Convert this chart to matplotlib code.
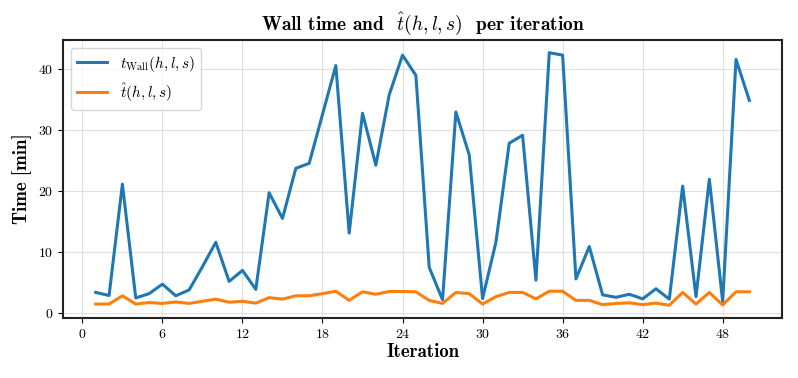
import matplotlib
matplotlib.use("Agg")
import matplotlib.pyplot as plt

iterations = list(range(1, 51))
t_wall = [3.4, 2.9, 21.1, 2.5, 3.2, 4.75, 2.85, 3.8, 7.6, 11.6,
          5.2, 7.0, 3.9, 19.7, 15.5, 23.7, 24.5, 32.5, 40.5, 13.1,
          32.7, 24.2, 35.7, 42.2, 38.9, 7.5, 2.2, 32.9, 25.9, 2.4,
          11.6, 27.8, 29.1, 5.4, 42.6, 42.2, 5.6, 10.9, 3.0, 2.6,
          3.1, 2.35, 4.0, 2.3, 20.8, 2.7, 21.9, 1.9, 41.5, 34.8]
t_hat = [1.5, 1.5, 2.85, 1.5, 1.75, 1.6, 1.85, 1.6, 1.95, 2.3,
         1.8, 1.95, 1.65, 2.55, 2.3, 2.85, 2.85, 3.2, 3.6, 2.1,
         3.5, 3.1, 3.55, 3.55, 3.5, 2.1, 1.6, 3.4, 3.2, 1.5,
         2.7, 3.4, 3.4, 2.35, 3.6, 3.6, 2.1, 2.1, 1.4, 1.6,
         1.7, 1.4, 1.65, 1.3, 3.4, 1.5, 3.4, 1.35, 3.5, 3.5]
xticks = [0, 6, 12, 18, 24, 30, 36, 42, 48]
yticks = [0, 10, 20, 30, 40]

plt.rcParams['font.family'] = 'serif'
plt.rcParams['font.serif'] = ['cmr10']
plt.rcParams['mathtext.fontset'] = 'cm'
plt.rcParams['axes.formatter.use_mathtext'] = True

fig, ax = plt.subplots(figsize=(7.98, 3.78), dpi=100)
fig.subplots_adjust(left=0.079, right=0.98, top=0.894, bottom=0.159)

ax.plot(iterations, t_wall, color='#1f77b4', lw=2.2, label=r'$t_{\mathrm{Wall}}(h,l,s)$')
ax.plot(iterations, t_hat, color='#ff7f0e', lw=2.2, label=r'$\hat{t}(h,l,s)$')

ax.set_xticks(xticks)
ax.set_yticks(yticks)
ax.grid(True, color='#cccccc', alpha=0.6, lw=0.8)
for s in ax.spines.values():
    s.set_linewidth(1.5)
    s.set_color('#222222')
ax.tick_params(labelsize=10)

ax.set_title(r'Wall time and  $\hat{t}(h,l,s)$  per iteration', fontsize=14, family='cmb10', pad=7)
ax.set_xlabel('Iteration', fontsize=13.5, family='cmb10', labelpad=2)
ax.set_ylabel('Time [min]', fontsize=13.5, family='cmb10')
ax.legend(loc='upper left', fontsize=11, framealpha=0.8)

fig.savefig('out.png', dpi=100)
